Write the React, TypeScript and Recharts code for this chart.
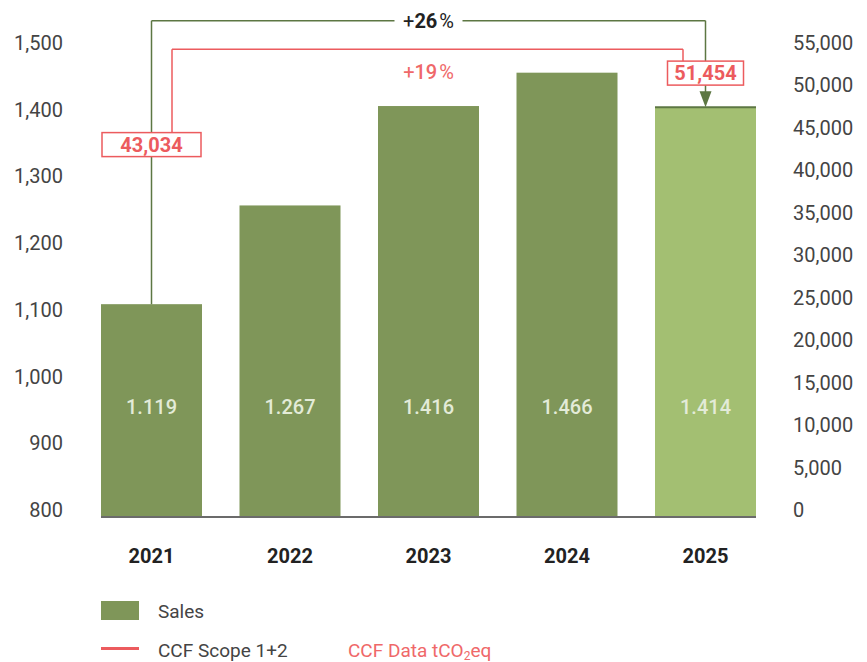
import React from "react";
import {
  ComposedChart,
  Bar,
  Cell,
  XAxis,
  YAxis,
  LabelList,
  ReferenceLine,
  ReferenceDot,
} from "recharts";

const years = ["2021", "2022", "2023", "2024", "2025"];
const sales = [1119, 1267, 1416, 1466, 1414];
const salesLabels = ["1.119", "1.267", "1.416", "1.466", "1.414"];
const ccf = [43034, null, null, null, 51454];
const salesTicks = [800, 900, 1000, 1100, 1200, 1300, 1400, 1500];
const ccfTicks = [0, 5000, 10000, 15000, 20000, 25000, 30000, 35000, 40000, 45000, 50000, 55000];
const salesChange = "+26%";
const ccfChange = "+19%";

const data = years.map((year, i) => ({
  year,
  sales: sales[i],
  label: salesLabels[i],
  ccf: ccf[i],
}));

const FONT = "Roboto, sans-serif";
const GREEN = "#7f9659";
const GREEN_LIGHT = "#a3bf72";
const DARK = "#5d7743";
const RED = "#ec5b5e";
const RED_TEXT = "#ef6869";
const AXIS_TEXT = "#444";

// where the brackets run across the top (axis units)
const SALES_TOP = 1544;
const CCF_TOP = 55100;
const first = years[0];
const last = years[years.length - 1];

const fmt = (v: number) => v.toLocaleString("en-US");

const LeftTick = ({ x, y, payload }: any) => (
  <text x={x} y={y - 7} dy="0.35em" textAnchor="end" fontSize={20} fill={AXIS_TEXT} fontFamily={FONT}>
    {fmt(payload.value)}
  </text>
);

const RightTick = ({ x, y, payload }: any) => (
  <text x={x} y={y - 7} dy="0.35em" textAnchor="start" fontSize={20} fill={AXIS_TEXT} fontFamily={FONT}>
    {fmt(payload.value)}
  </text>
);

const YearTick = ({ x, y, payload }: any) => (
  <text x={x} y={y} dy="0.35em" textAnchor="middle" fontSize={20} fontWeight={700} fill="#222" fontFamily={FONT}>
    {payload.value}
  </text>
);

const SalesBar = (props: any) => {
  const { x, y, width, height, fill, index } = props;
  return (
    <g>
      <rect x={x} y={y} width={width} height={height} fill={fill} />
      {index === years.length - 1 && (
        <line x1={x} x2={x + width} y1={y} y2={y} stroke={DARK} strokeWidth={2} />
      )}
    </g>
  );
};

const BarValue = (props: any) => {
  const { x, y, width, height, value } = props;
  return (
    <text
      x={x + width / 2}
      y={y + height - 110}
      dy="0.35em"
      textAnchor="middle"
      fontSize={20}
      fontWeight={500}
      fill="#e3ebd8"
      fontFamily={FONT}
    >
      {value}
    </text>
  );
};

const ChangeText = ({ x, y, text, color, boldNum }: any) => {
  const m = /^([+-])(\d+)(%)$/.exec(text) || ["", "", text, ""];
  return (
    <text x={x} y={y} dy="0.35em" textAnchor="middle" fontSize={20} fill={color} fontFamily={FONT}>
      <tspan>{m[1]}</tspan>
      <tspan fontWeight={boldNum ? 700 : 500}>{m[2]}</tspan>
      <tspan dx={2}>{m[3]}</tspan>
    </text>
  );
};

// vertical / horizontal pieces of a bracket, shifted sideways from bar centres
const shifted = (color: string, dx1: number, dx2: number) => (p: any) => (
  <line x1={p.x1 + dx1} y1={p.y1} x2={p.x2 + dx2} y2={p.y2} stroke={color} strokeWidth={1.5} />
);

const SalesSpan = (p: any) => {
  const mid = (p.x1 + p.x2) / 2;
  return (
    <g>
      <line x1={p.x1} y1={p.y1} x2={mid - 34} y2={p.y2} stroke={DARK} strokeWidth={1.5} />
      <line x1={mid + 34} y1={p.y1} x2={p.x2} y2={p.y2} stroke={DARK} strokeWidth={1.5} />
      <ChangeText x={mid} y={p.y1} text={salesChange} color="#222" boldNum />
    </g>
  );
};

const SalesArrow = (p: any) => (
  <g>
    <line x1={p.x1} y1={p.y1} x2={p.x2} y2={p.y2 - 14} stroke={DARK} strokeWidth={1.5} />
    <polygon points={`${p.x2 - 6},${p.y2 - 16} ${p.x2 + 6},${p.y2 - 16} ${p.x2},${p.y2}`} fill={DARK} />
  </g>
);

const CcfSpan = (p: any) => (
  <g>
    <line x1={p.x1 + 20.5} y1={p.y1} x2={p.x2 - 22.5} y2={p.y2} stroke={RED} strokeWidth={1.5} />
    <ChangeText x={(p.x1 + p.x2) / 2} y={p.y1 + 23} text={ccfChange} color={RED_TEXT} />
  </g>
);

const boxWidths: Record<number, number> = { 0: 99, 4: 76 };

const CcfBox = (index: number) => (p: any) => {
  const w = boxWidths[index];
  const cy = p.cy - 7;
  return (
    <g>
      <rect x={p.cx - w / 2} y={cy - 12} width={w} height={24} fill="#fff" stroke={RED} strokeWidth={1.5} />
      <text x={p.cx} y={cy} dy="0.35em" textAnchor="middle" fontSize={20} fontWeight={700} fill={RED} fontFamily={FONT}>
        {fmt(ccf[index] as number)}
      </text>
    </g>
  );
};

export default function App() {
  return (
    <div style={{ position: "absolute", left: 0, top: 0, width: 867, height: 662, background: "#fff", fontFamily: FONT }}>
      <ComposedChart
        width={867}
        height={580}
        data={data}
        margin={{ top: 50, right: 0, bottom: 0, left: 0 }}
        barCategoryGap={18.75}
      >
        <XAxis
          dataKey="year"
          height={63}
          padding={{ left: -18.75, right: -18.75 }}
          tickLine={false}
          tickSize={0}
          tickMargin={39}
          axisLine={{ stroke: "#6b6b6b", strokeWidth: 2 }}
          tick={<YearTick />}
        />
        <YAxis
          yAxisId="left"
          domain={[800, 1500]}
          ticks={salesTicks}
          width={101}
          axisLine={false}
          tickLine={false}
          tickSize={0}
          tickMargin={38}
          tick={<LeftTick />}
          allowDataOverflow
        />
        <YAxis
          yAxisId="right"
          orientation="right"
          domain={[0, 55000]}
          ticks={ccfTicks}
          width={111}
          axisLine={false}
          tickLine={false}
          tickSize={0}
          tickMargin={37}
          tick={<RightTick />}
          allowDataOverflow
        />
        <Bar dataKey="sales" yAxisId="left" isAnimationActive={false} shape={<SalesBar />}>
          {data.map((d, i) => (
            <Cell key={d.year} fill={i === data.length - 1 ? GREEN_LIGHT : GREEN} />
          ))}
          <LabelList dataKey="label" content={<BarValue />} />
        </Bar>

        {/* sales bracket */}
        <ReferenceLine
          yAxisId="left"
          ifOverflow="visible"
          segment={[{ x: first, y: sales[0] }, { x: first, y: SALES_TOP }]}
          shape={shifted(DARK, 0, 0)}
        />
        <ReferenceLine
          yAxisId="left"
          ifOverflow="visible"
          segment={[{ x: first, y: SALES_TOP }, { x: last, y: SALES_TOP }]}
          shape={SalesSpan}
        />
        <ReferenceLine
          yAxisId="left"
          ifOverflow="visible"
          segment={[{ x: last, y: SALES_TOP }, { x: last, y: sales[sales.length - 1] }]}
          shape={SalesArrow}
        />

        {/* CCF bracket */}
        <ReferenceLine
          yAxisId="right"
          ifOverflow="visible"
          segment={[{ x: first, y: ccf[0] }, { x: first, y: CCF_TOP }]}
          shape={shifted(RED, 20.5, 20.5)}
        />
        <ReferenceLine
          yAxisId="right"
          ifOverflow="visible"
          segment={[{ x: first, y: CCF_TOP }, { x: last, y: CCF_TOP }]}
          shape={CcfSpan}
        />
        <ReferenceLine
          yAxisId="right"
          ifOverflow="visible"
          segment={[{ x: last, y: CCF_TOP }, { x: last, y: ccf[ccf.length - 1] }]}
          shape={shifted(RED, -22.5, -22.5)}
        />
        {ccf.map((v, i) =>
          v == null ? null : (
            <ReferenceDot key={i} yAxisId="right" x={years[i]} y={v} ifOverflow="visible" shape={CcfBox(i)} />
          )
        )}
      </ComposedChart>

      {/* legend */}
      <div style={{ position: "absolute", left: 101, top: 601, width: 38, height: 19, background: GREEN }} />
      <div style={{ position: "absolute", left: 158, top: 600, fontSize: 19, lineHeight: "24px", color: AXIS_TEXT }}>
        Sales
      </div>
      <div style={{ position: "absolute", left: 101, top: 647, width: 38, height: 3, background: RED }} />
      <div style={{ position: "absolute", left: 158, top: 639, fontSize: 19, lineHeight: "24px", color: AXIS_TEXT }}>
        CCF Scope 1+2
      </div>
      <div style={{ position: "absolute", left: 348, top: 639, fontSize: 19, lineHeight: "24px", color: RED_TEXT }}>
        CCF Data tCO<sub style={{ fontSize: 12, verticalAlign: -3, lineHeight: 0 }}>2</sub>eq
      </div>
    </div>
  );
}
